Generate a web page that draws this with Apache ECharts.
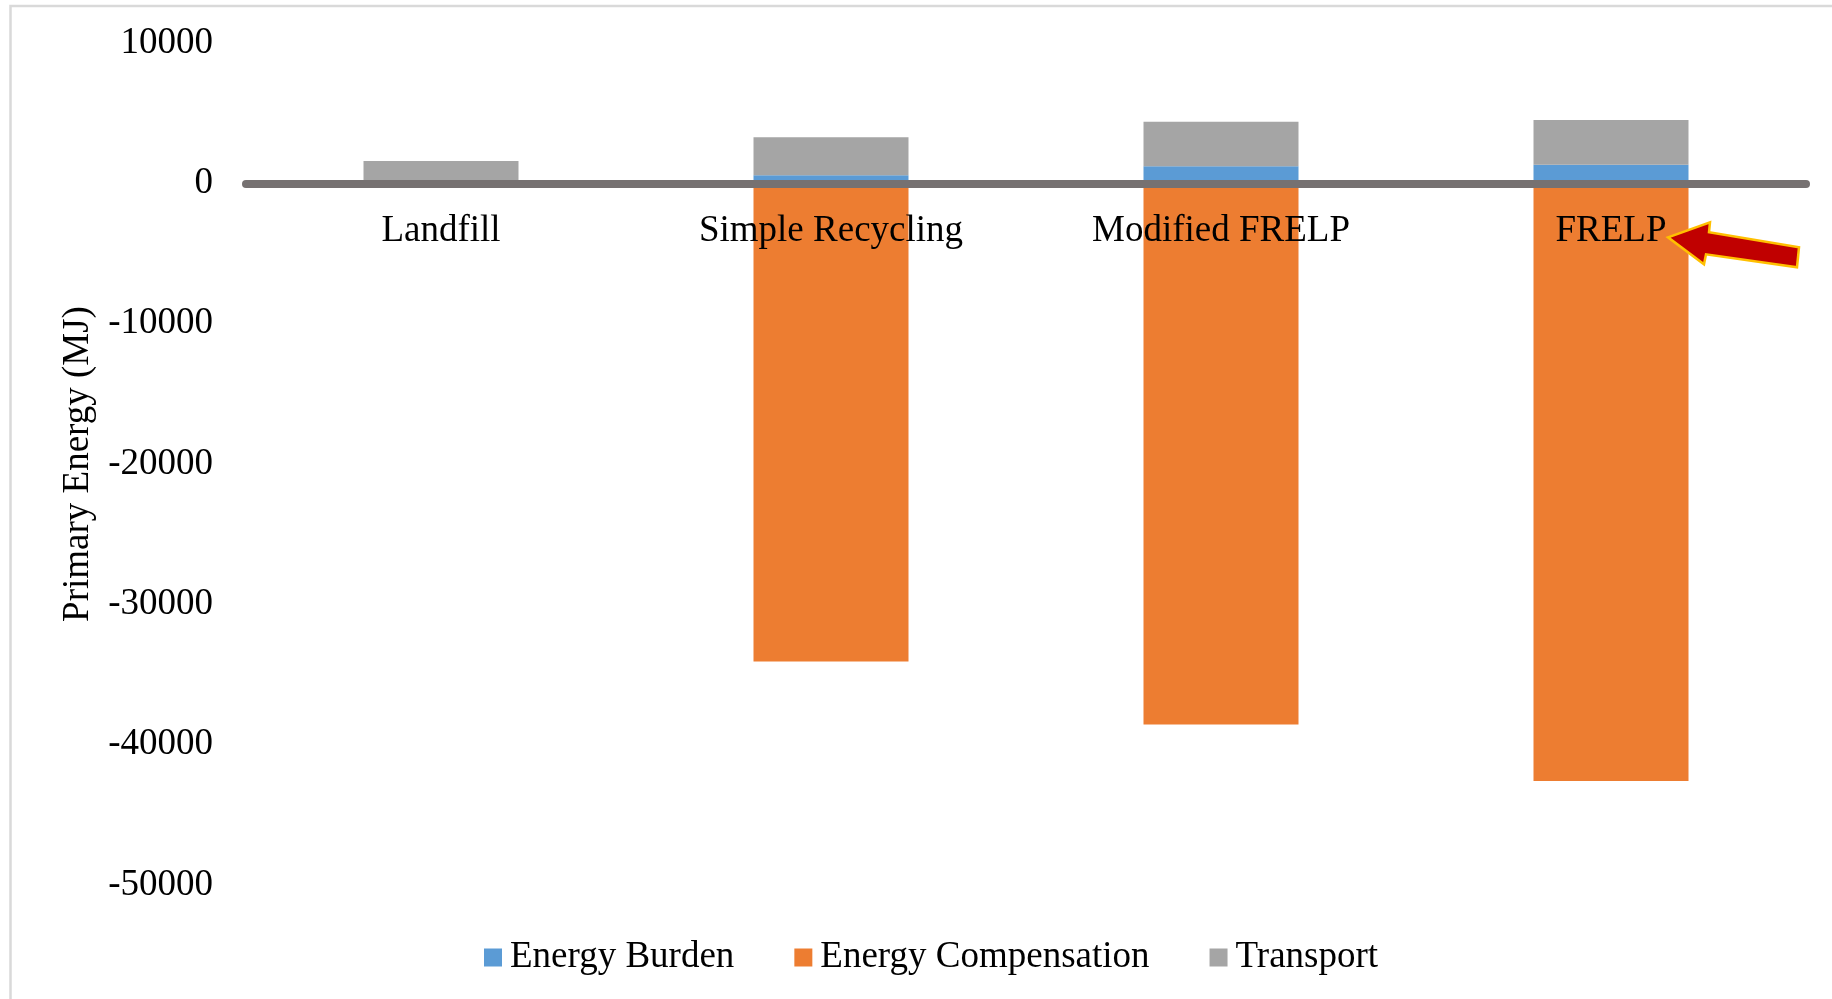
<!DOCTYPE html>
<html>
<head>
<meta charset="utf-8">
<title>Primary Energy</title>
<script src="https://cdn.jsdelivr.net/npm/echarts@6/dist/echarts.min.js"></script>
<style>
  html, body { margin: 0; padding: 0; background: #ffffff; }
  #chart { width: 1832px; height: 999px; }
</style>
</head>
<body>
<div id="chart"></div>
<script>
// Scenarios on the category axis
const categories = ['Landfill', 'Simple Recycling', 'Modified FRELP', 'FRELP'];

// Primary energy contributions per scenario (MJ)
const energyBurden = [0, 570, 1210, 1330];
const energyCompensation = [0, -34070, -38570, -42590];
const transport = [1600, 2710, 3180, 3190];

// Value axis range and step
const yMin = -50000;
const yMax = 10000;
const yStep = 10000;

const FONT = '"Liberation Serif", "Times New Roman", serif';
const GRID = { left: 246, right: 26, top: 43, bottom: 114 };
const CHART_H = 999;

const chart = echarts.init(document.getElementById('chart'), null, { renderer: 'canvas' });

// Pixel row of the zero value, used to hang the category labels under the zero line
const plotH = CHART_H - GRID.top - GRID.bottom;
const zeroY = GRID.top + plotH * (yMax - 0) / (yMax - yMin);
const labelOffset = -(CHART_H - GRID.bottom - zeroY);

const option = {
  backgroundColor: '#ffffff',
  animation: false,
  textStyle: { fontFamily: FONT, color: '#000000' },
  grid: Object.assign({ containLabel: false }, GRID),
  legend: {
    data: ['Energy Burden', 'Energy Compensation', 'Transport'],
    left: 479,
    top: 934,
    icon: 'rect',
    itemWidth: 18,
    itemHeight: 18,
    itemGap: 60,
    textStyle: { fontFamily: FONT, fontSize: 37, color: '#000000', padding: [0, 0, 0, 3] }
  },
  xAxis: [
    {
      // zero line drawn over the bars
      type: 'category',
      data: categories,
      z: 5,
      axisLine: { onZero: true, lineStyle: { color: '#767171', width: 8 } },
      axisTick: { show: false },
      axisLabel: { show: false }
    },
    {
      // category names just below the zero line
      type: 'category',
      data: categories,
      position: 'bottom',
      offset: labelOffset,
      z: 6,
      axisLine: { show: false, onZero: false },
      axisTick: { show: false },
      axisLabel: { fontFamily: FONT, fontSize: 37, color: '#000000', margin: 29 }
    }
  ],
  yAxis: {
    type: 'value',
    min: yMin,
    max: yMax,
    interval: yStep,
    name: 'Primary Energy (MJ)',
    nameLocation: 'middle',
    nameRotate: 90,
    nameGap: 141,
    nameTextStyle: { fontFamily: FONT, fontSize: 37, color: '#000000' },
    axisLine: { show: false },
    axisTick: { show: false },
    splitLine: { show: false },
    axisLabel: {
      fontFamily: FONT, fontSize: 37, color: '#000000', margin: 33,
      formatter: v => String(v)
    }
  },
  series: [
    {
      name: 'Energy Burden',
      type: 'bar',
      stack: 'energy',
      barWidth: 155,
      itemStyle: { color: '#5B9BD5' },
      data: energyBurden
    },
    {
      name: 'Energy Compensation',
      type: 'bar',
      stack: 'energy',
      barWidth: 155,
      itemStyle: { color: '#ED7D31' },
      data: energyCompensation
    },
    {
      name: 'Transport',
      type: 'bar',
      stack: 'energy',
      barWidth: 155,
      itemStyle: { color: '#A5A5A5' },
      data: transport
    }
  ]
};

chart.setOption(option);

// Frame around the chart area and the arrow pointing at the FRELP label
const cx = chart.convertToPixel({ xAxisIndex: 0 }, 'FRELP');
const cy = chart.convertToPixel({ yAxisIndex: 0 }, 0);
const arrow = [
  [57, 54], [99, 39], [98, 49], [188, 64], [186, 84], [95, 71], [93, 81]
].map(p => [cx + p[0], cy + p[1]]);

chart.setOption({
  graphic: [
    {
      type: 'rect',
      shape: { x: 10.5, y: 6, width: 1900, height: 1100 },
      style: { fill: 'none', stroke: '#d9d9d9', lineWidth: 2.5 },
      silent: true,
      z: 0
    },
    {
      type: 'polygon',
      shape: { points: arrow },
      style: { fill: '#C00000', stroke: '#FFC000', lineWidth: 2.5, lineJoin: 'miter' },
      silent: true,
      z: 20
    }
  ]
});
</script>
</body>
</html>
